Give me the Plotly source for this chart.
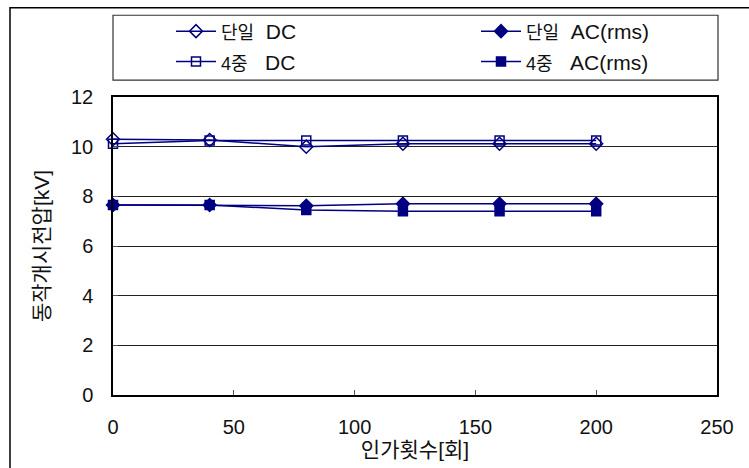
import plotly.graph_objects as go

# Applied count and breakdown-start voltages for each test condition
counts = [0, 40, 80, 120, 160, 200]
single_dc = [10.3, 10.27, 10.0, 10.12, 10.12, 10.12]
single_ac = [7.65, 7.65, 7.62, 7.7, 7.7, 7.7]
quad_dc = [10.12, 10.25, 10.25, 10.25, 10.25, 10.25]
quad_ac = [7.65, 7.65, 7.45, 7.4, 7.4, 7.4]

x_ticks = [0, 50, 100, 150, 200, 250]
y_ticks = [0, 2, 4, 6, 8, 10, 12]

NAVY = "#000080"
FONT = "Liberation Sans, Noto Sans CJK KR, sans-serif"


def label(kor, lat):
    # Hangul part is set a little smaller than the Latin part
    return f'<span style="font-size:18px">{kor}</span>\u00a0\u00a0{lat}'


# (label, values, marker symbol, marker size, legend column)
series = [
    (label("단일", "DC"), single_dc, "diamond-open", 10, "legend"),
    (label("4중", "\u00a0DC"), quad_dc, "square-open", 9, "legend"),
    (label("단일", "AC(rms)"), single_ac, "diamond", 10, "legend2"),
    (label("4중", "\u00a0AC(rms)"), quad_ac, "square", 9, "legend2"),
]

fig = go.Figure()
for name, vals, sym, sz, lg in series:
    fig.add_trace(go.Scatter(
        x=counts, y=vals, name=name, mode="lines+markers",
        line=dict(color=NAVY, width=1.5),
        marker=dict(symbol=sym, size=sz, color=NAVY,
                    line=dict(color=NAVY, width=1.5)),
        cliponaxis=False, legend=lg,
    ))

L, R, T, B = 113, 32, 96, 73
W, H = 749, 468
pw, ph = W - L - R, H - T - B


def px_x(p):
    return (p - L) / pw


def px_y(p):
    return (H - B - p) / ph


legend_style = dict(
    xanchor="left", yanchor="top", orientation="v",
    font=dict(family=FONT, size=21, color="#111"),
    bgcolor="rgba(0,0,0,0)", borderwidth=0,
    tracegroupgap=0, itemwidth=40,
)

fig.update_layout(
    width=W, height=H,
    margin=dict(l=L, r=R, t=T, b=B),
    paper_bgcolor="white", plot_bgcolor="white",
    font=dict(family=FONT, size=20, color="#111"),
    showlegend=True,
    legend=dict(x=px_x(171), y=px_y(11), **legend_style),
    legend2=dict(x=px_x(476), y=px_y(11), **legend_style),
    xaxis=dict(
        range=[0, 250], tickvals=x_ticks, showgrid=False, zeroline=False,
        showline=True, linecolor="black", linewidth=1.5, mirror=True,
        ticks="inside", ticklen=5, tickcolor="#555",
        ticklabelstandoff=13,
        title=dict(text="인가횟수[회]", font=dict(size=21), standoff=0),
    ),
    yaxis=dict(
        range=[0, 12], tickvals=y_ticks, showgrid=True, gridcolor="#222",
        gridwidth=1, zeroline=False,
        showline=True, linecolor="black", linewidth=1.5, mirror=True,
        ticks="inside", ticklen=5, tickcolor="#555",
        ticklabelstandoff=14,
        title=dict(text="동작개시전압[kV]", font=dict(size=21), standoff=16),
    ),
    shapes=[
        # outer frame around the whole chart
        dict(type="rect", xref="paper", yref="paper",
             x0=px_x(10), x1=px_x(770), y0=px_y(490), y1=px_y(6.5),
             line=dict(color="black", width=1.5), layer="below"),
        # legend box
        dict(type="rect", xref="paper", yref="paper",
             x0=px_x(113), x1=px_x(718), y0=px_y(79), y1=px_y(14),
             line=dict(color="#333", width=1.2)),
    ],
)

fig.write_html("out.html")
